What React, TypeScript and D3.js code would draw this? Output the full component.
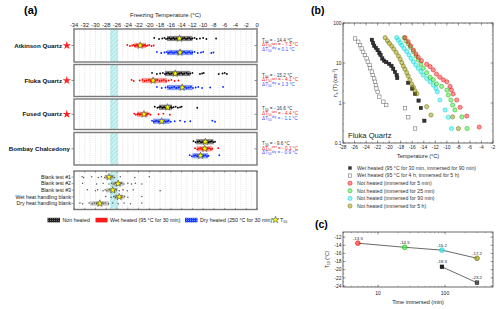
import React from "react";
import * as d3 from "d3";

const FONT = '"Liberation Sans", Arial, Helvetica, sans-serif';

// ---------------- Panel (a) data ----------------
const sampleNames = ["Atkinson Quartz", "Fluka Quartz", "Fused Quartz", "Bombay Chalcedony"];
const sampleStarred = [true, true, true, false];
const nonHeatedTemps = [
  [-19.1, -18.2, -17.6, -17.2, -16.9, -16.6, -16.3, -16.0, -15.8, -15.5, -15.3, -15.0, -14.8, -14.6, -14.4, -14.2, -14.0, -13.8, -13.5, -13.2, -12.9, -12.6, -12.3, -12.0, -11.6, -11.2, -10.6, -10.0, -9.4, -7.6],
  [-19.5, -18.6, -18.0, -17.5, -17.1, -16.8, -16.5, -16.2, -15.9, -15.6, -15.4, -15.2, -15.0, -14.7, -14.4, -14.1, -13.8, -13.5, -13.1, -12.8, -12.4, -12.0, -10.6, -10.2, -9.9, -7.1, -6.4, -6.0, -5.6],
  [-19.0, -18.5, -18.2, -17.9, -17.6, -17.3, -17.1, -16.9, -16.7, -16.6, -16.4, -16.2, -16.0, -15.8, -15.5, -15.1, -14.7, -14.3, -14.0, -11.1],
  [-11.8, -11.4, -11.0, -10.7, -10.4, -10.1, -9.9, -9.7, -9.5, -9.3, -9.0, -8.7, -8.4, -8.1, -7.8],
];
const wetHeatedTemps = [
  [-24.1, -23.6, -23.2, -22.9, -22.7, -22.5, -22.3, -22.1, -21.9, -21.8, -21.7, -21.6, -21.4, -21.2, -21.0, -20.8, -20.6, -20.3, -20.0, -19.6, -19.2],
  [-23.3, -22.9, -21.8, -21.3, -20.9, -20.5, -20.1, -19.8, -19.5, -19.3, -19.1, -18.8, -18.5, -18.1, -17.7, -17.3, -16.9, -16.4, -15.9, -15.3, -14.6],
  [-22.8, -22.5, -22.2, -22.0, -21.8, -21.6, -21.4, -21.2, -21.0, -20.8, -20.6, -20.4, -20.1, -19.8, -18.3, -17.4, -16.2],
  [-11.5, -11.1, -10.8, -10.5, -10.2, -9.9, -9.7, -9.5, -9.2, -8.9, -8.6, -8.3, -7.2],
];
const dryHeatedTemps = [
  [-18.6, -17.8, -17.2, -16.8, -16.5, -16.2, -15.9, -15.6, -15.3, -15.0, -14.7, -14.5, -14.3, -14.1, -13.8, -13.5, -13.2, -12.9, -12.6, -12.3, -12.0, -11.6, -11.0, -10.4, -10.0, -8.5, -8.1],
  [-18.6, -17.7, -17.0, -16.6, -16.2, -15.8, -15.4, -15.0, -14.6, -14.3, -14.0, -13.7, -13.4, -13.1, -12.7, -12.3, -11.9, -11.4, -10.9, -10.2, -8.7, -6.3],
  [-19.5, -19.2, -18.9, -18.6, -18.3, -18.1, -17.9, -17.7, -17.5, -17.3, -17.0, -16.7, -16.4, -16.0, -15.3, -14.3, -13.4, -12.4, -8.3, -7.8],
  [-12.5, -12.1, -11.7, -11.4, -11.1, -10.8, -10.5, -10.2, -9.9, -9.6, -9.3, -9.0, -7.0],
];
const nonHeatedBox = [[-16.7, -12.0], [-17.1, -12.4], [-18.2, -15.8], [-11.3, -8.1]];
const wetHeatedBox = [[-22.8, -20.6], [-21.4, -16.7], [-22.3, -20.2], [-11.2, -8.3]];
const dryHeatedBox = [[-16.7, -11.9], [-16.7, -12.0], [-19.3, -16.2], [-12.0, -9.1]];
const t50NonHeated = [-14.4, -15.2, -16.6, -9.6];
const t50WetHeated = [-21.7, -19.3, -21.0, -9.7];
const t50DryHeated = [-14.3, -13.9, -17.7, -10.5];
const t50Labels = ["- 14.4", "- 15.2", "- 16.6", "- 9.6"];
const dT50WetLabels = ["- 7.3", "- 4.1", "- 4.4", "- 0.1"];
const dT50DryLabels = ["0.1", "1.3", "- 1.1", "- 0.9"];

const blankNames = ["Blank test #1", "Blank test #2", "Blank test #3", "Wet heat handling blank", "Dry heat handling blank"];
const blankTemps = [
  [-32.5, -32.2, -30.7, -29.5, -28.9, -28.3, -27.9, -27.6, -27.4, -27.2, -26.9, -26.5, -25.4, -22.7, -20.0],
  [-32.4, -29.8, -28.6, -27.5, -27.0, -26.6, -26.3, -26.0, -25.7, -25.4, -25.1, -24.7, -24.0, -23.3, -22.6, -21.4],
  [-31.5, -30.0, -29.6, -28.6, -28.2, -27.9, -27.5, -27.1, -26.8, -26.5, -26.1, -25.6, -24.9, -24.1, -23.0, -18.0],
  [-28.1, -27.1, -26.6, -26.3, -26.0, -25.7, -25.4, -25.1, -24.6, -24.0, -21.4],
  [-32.9, -32.4, -31.2, -30.6, -30.2, -29.8, -29.5, -29.2, -28.9, -28.6, -28.2, -27.6, -26.8, -25.8, -24.7, -23.5, -21.4],
];
const blankBox = [[-28.3, -26.5], [-27.0, -24.8], [-28.0, -26.0], [-26.6, -24.6], [-31.0, -27.5]];
const blankT50 = [-27.5, -25.8, -26.8, -25.6, -29.2];
const homogeneousBand = [-27.3, -25.8];
const xTicksA = [-34, -32, -30, -28, -26, -24, -22, -20, -18, -16, -14, -12, -10, -8, -6, -4, -2, 0];
const legendA = ["Non heated", "Wet heated (95 °C for 30 min)", "Dry heated (250 °C for 30 min)"];

// ---------------- Panel (b) data ----------------
const legendB = [
  "Wet heated (95 °C for 30 min, immersed for 90 min)",
  "Wet heated (95 °C for 4 h, immersed for 5 h)",
  "Not heated (immersed for 5 min)",
  "Not heated (immersed for 25 min)",
  "Not heated (immersed for 90 min)",
  "Not heated (immersed for 5 h)",
];
const wetHeated30minImm90 = [
  [-23.0, 38], [-22.8, 32], [-22.6, 27], [-22.3, 24], [-22.0, 21], [-21.7, 18], [-21.5, 16], [-21.2, 13],
  [-20.9, 11.5], [-20.5, 10.5], [-20.0, 9.5], [-19.6, 8.5], [-19.3, 7.2], [-19.0, 6.0], [-18.7, 5.0], [-18.6, 4.2],
  [-16.7, 3.2], [-16.0, 2.3], [-15.5, 1.7], [-14.9, 1.15], [-14.5, 0.75], [-13.9, 0.36],
];
const wetHeated4hImm5h = [
  [-25.9, 41], [-25.35, 34], [-25.05, 28], [-24.76, 23], [-24.5, 19], [-24.2, 15.8], [-23.9, 13], [-23.7, 10.8],
  [-23.4, 8.9], [-23.3, 7.4], [-23.0, 6.1], [-22.85, 5.0], [-22.6, 4.1], [-22.45, 3.4], [-22.3, 2.8], [-22.2, 2.3],
  [-22.0, 1.9], [-21.7, 1.44], [-21.0, 1.08], [-20.5, 0.89], [-17.25, 0.74], [-16.7, 0.44], [-15.5, 0.23],
];
const notHeated5min = [
  [-17.25, 43], [-16.7, 34], [-16.3, 27], [-15.8, 21], [-15.35, 16.8], [-14.95, 13.9], [-14.4, 11.4], [-13.5, 9.3],
  [-12.9, 8.1], [-12.35, 6.7], [-11.8, 5.3], [-11.2, 4.4], [-10.6, 3.8], [-10.0, 3.4], [-9.45, 2.6], [-9.2, 2.1],
  [-8.9, 1.68], [-8.3, 1.19], [-7.7, 0.78], [-6.55, 0.47], [-4.4, 0.25],
];
const notHeated25min = [
  [-17.4, 43], [-17.1, 36], [-16.7, 30], [-16.3, 24.6], [-15.8, 19.2], [-15.35, 15], [-14.95, 11.9], [-14.5, 9.4],
  [-14.1, 7.4], [-13.5, 5.7], [-12.9, 4.4], [-12.35, 3.8], [-11.8, 3.0], [-10.9, 2.6], [-10.0, 2.1], [-9.75, 1.58],
  [-9.3, 1.19], [-9.0, 0.89], [-8.6, 0.67], [-7.4, 0.45], [-6.5, 0.23],
];
const notHeated90min = [
  [-18.7, 43], [-18.4, 37.6], [-18.1, 32], [-17.8, 27.7], [-17.4, 23], [-16.96, 19.2], [-16.56, 15.8], [-16.2, 13],
  [-15.8, 10.8], [-15.4, 8.9], [-14.95, 7.4], [-14.5, 6.1], [-14.1, 5.0], [-13.5, 4.1], [-12.9, 3.4], [-12.35, 2.8],
  [-11.9, 2.3], [-11.65, 1.9], [-11.2, 1.19], [-10.3, 0.67], [-9.75, 0.44], [-9.2, 0.23],
];
const notHeated5h = [
  [-20.7, 43], [-20.3, 36], [-19.97, 31], [-19.56, 26.6], [-19.2, 22.4], [-18.8, 18.5], [-18.4, 15], [-18.1, 12.4],
  [-17.8, 10.2], [-17.55, 8.4], [-17.25, 7.0], [-16.96, 5.7], [-16.7, 4.7], [-16.4, 3.8], [-16.1, 3.0], [-15.8, 2.5],
  [-15.5, 2.0], [-15.2, 1.7], [-13.5, 0.81], [-12.75, 0.5], [-9.0, 0.45], [-8.0, 0.23],
];
const xTicksB = [-28, -26, -24, -22, -20, -18, -16, -14, -12, -10, -8, -6, -4, -2];
const yTicksB = [0.1, 1, 10, 100];
const yTickLabelsB = ["0.1", "1", "10", "100"];

// ---------------- Panel (c) data ----------------
const timeNotHeated = [5, 25, 90, 300];
const t50NotHeatedTime = [-13.5, -14.5, -15.2, -17.2];
const timeWetHeated = [90, 300];
const t50WetHeatedTime = [-19.3, -23.2];
const yTicksC = [-12, -14, -16, -18, -20, -22, -24];
const xTicksC = [10, 100];

// colours
const RED = "#ff2a2a";
const GREEN = "#33ee33";
const CYAN = "#22f0f0";
const OLIVE = "#999900";
const circleColors = [RED, GREEN, CYAN, OLIVE];
const circleStroke = ["#e01010", "#18b018", "#10c8d0", "#6a6a00"];

export default function App() {
  // ---- panel a scales ----
  const xA = d3.scaleLinear().domain([-34, 0]).range([74, 257]);
  const panelsA = [[29, 62], [64.5, 96.5], [99, 129.5], [132.5, 165]];
  const blankPanel = [171, 209.5];
  const starSmall = d3.symbol().type(d3.symbolStar).size(15)() as string;
  const starRed = d3.symbol().type(d3.symbolStar).size(22)() as string;
  const minorA = d3.range(-33, 0, 1);

  // ---- panel b scales ----
  const xB = d3.scaleLinear().domain([-28, -2]).range([343, 493]);
  const yB = d3.scaleLog().domain([0.1, 100]).range([143, 23]);
  const yMinorB = yB.ticks();
  const xMinorB = d3.range(-27, -2, 1);

  // ---- panel c scales ----
  const xC = d3.scaleLog().domain([3, 520]).range([343, 493]);
  const yC = d3.scaleLinear().domain([-24.25, -10.75]).range([287, 232]);
  const xMinorC = xC.ticks();
  const yMinorC = d3.range(-24, -10, 1);
  const lineC = d3.line<number>().x((d, i) => xC(timeNotHeated[i])).y((d) => yC(d));
  const lineCw = d3.line<number>().x((d, i) => xC(timeWetHeated[i])).y((d) => yC(d));

  const rowColors = ["#000", "#ff0000", "#0022ff"];
  const boxColors = ["#555", "#ff4a4a", "#3a5cff"];
  const boxOpacity = [0.7, 0.55, 0.6];

  const renderRow = (temps: number[], box: number[], t50: number, y: number, k: number, key: string) => (
    <g key={key}>
      <rect x={xA(box[0])} y={y - 2.6} width={xA(box[1]) - xA(box[0])} height={5.2} fill={boxColors[k]} opacity={boxOpacity[k]} />
      {temps.map((t, i) => (
        <circle key={i} cx={xA(t)} cy={y + (i % 3 === 0 ? -0.6 : i % 3 === 1 ? 0.5 : 0)} r={0.9} fill={rowColors[k]} />
      ))}
      <path d={starSmall} transform={`translate(${xA(t50)},${y})`} fill="#ffff00" stroke="#333" strokeWidth={0.5} />
    </g>
  );

  const frame = (y0: number, y1: number, key: string) => (
    <rect key={key} x={74} y={y0} width={183} height={y1 - y0} fill="none" stroke="#7a7a7a" strokeWidth={1.4} />
  );

  return (
    <svg width={500} height={309} style={{ position: "absolute", left: 0, top: 0, background: "#fff" }} fontFamily={FONT}>
      <defs>
        <pattern id="hatch" patternUnits="userSpaceOnUse" width={3} height={3} patternTransform="rotate(45)">
          <rect width={3} height={3} fill="#cdf3f3" />
          <line x1={0} y1={0} x2={0} y2={3} stroke="#7fdada" strokeWidth={1} />
        </pattern>
        <pattern id="dots" patternUnits="userSpaceOnUse" width={2} height={2}>
          <rect width={2} height={2} fill="#1a3cff" />
          <rect width={1} height={1} fill="#6f86ff" />
        </pattern>
        <pattern id="dotsK" patternUnits="userSpaceOnUse" width={2} height={2}>
          <rect width={2} height={2} fill="#222" />
          <rect width={1} height={1} fill="#666" />
        </pattern>
      </defs>

      {/* ================= Panel (a) ================= */}
      <text x={24} y={14} fontSize={11} fontWeight="bold">(a)</text>
      <text x={xA(-17)} y={17} fontSize={6} textAnchor="middle" fill="#222">Freezing Temperature (°C)</text>
      {xTicksA.map((t) => (
        <g key={t}>
          <text x={xA(t)} y={26.5} fontSize={5.8} textAnchor="middle" fill="#222">{t}</text>
          <line x1={xA(t)} x2={xA(t)} y1={27.8} y2={29} stroke="#444" strokeWidth={0.5} />
        </g>
      ))}

      {[...panelsA, blankPanel].map((p, pi) => (
        <g key={"bg" + pi}>
          <rect x={xA(homogeneousBand[0])} y={p[0]} width={xA(homogeneousBand[1]) - xA(homogeneousBand[0])} height={p[1] - p[0]} fill="url(#hatch)" />
          {minorA.map((v) => (
            <line key={v} x1={xA(v)} x2={xA(v)} y1={p[0]} y2={p[1]} stroke="#bdbdbd" strokeWidth={0.5} strokeDasharray="0.7,1.2" />
          ))}
        </g>
      ))}

      {panelsA.map((p, si) => {
        const c = (p[0] + p[1]) / 2;
        return (
          <g key={"s" + si}>
            {renderRow(nonHeatedTemps[si], nonHeatedBox[si], t50NonHeated[si], c - 7, 0, "n")}
            {renderRow(wetHeatedTemps[si], wetHeatedBox[si], t50WetHeated[si], c, 1, "w")}
            {renderRow(dryHeatedTemps[si], dryHeatedBox[si], t50DryHeated[si], c + 7, 2, "d")}
            <line x1={71.5} x2={74} y1={c} y2={c} stroke="#444" strokeWidth={0.6} />
            <line x1={254.5} x2={257} y1={c} y2={c} stroke="#444" strokeWidth={0.6} />
            <text x={sampleStarred[si] ? 62 : 70} y={c + 2.2} fontSize={6.2} fontWeight="bold" textAnchor="end" fill="#111">{sampleNames[si]}</text>
            {sampleStarred[si] && <path d={starRed} transform={`translate(66.8,${c})`} fill="#ff2020" />}
            <g fontSize={4.7}>
              <text x={262} y={c - 3.8} fill="#333">
                T<tspan fontSize={3.3} dy={1}>50</tspan><tspan dy={-1}>{` = ${t50Labels[si]} °C`}</tspan>
              </text>
              <text x={262} y={c + 0.8} fill="#ff2020">
                ΔT<tspan fontSize={3.3} dy={1}>50</tspan><tspan fontSize={3.3} dy={-2.6}>wet</tspan><tspan dy={1.6}>{` = ${dT50WetLabels[si]} °C`}</tspan>
              </text>
              <text x={262} y={c + 5.4} fill="#3355ff">
                ΔT<tspan fontSize={3.3} dy={1}>50</tspan><tspan fontSize={3.3} dy={-2.6}>dry</tspan><tspan dy={1.6}>{` = ${dT50DryLabels[si]} °C`}</tspan>
              </text>
            </g>
          </g>
        );
      })}

      {blankNames.map((name, bi) => {
        const y = (blankPanel[0] + blankPanel[1]) / 2 + (bi - 2) * 6.6;
        const box = blankBox[bi];
        return (
          <g key={"b" + bi}>
            <rect x={xA(box[0])} y={y - 2.2} width={xA(box[1]) - xA(box[0])} height={4.4} fill="#9a9a9a" opacity={0.55} />
            {blankTemps[bi].map((t, i) => (
              <circle key={i} cx={xA(t)} cy={y + (i % 2 === 0 ? -0.4 : 0.4)} r={0.75} fill="#555" />
            ))}
            <path d={starSmall} transform={`translate(${xA(blankT50[bi])},${y})`} fill="#ffff00" stroke="#333" strokeWidth={0.5} />
            <line x1={71.5} x2={74} y1={y} y2={y} stroke="#444" strokeWidth={0.5} />
            <text x={71} y={y + 1.8} fontSize={5.2} textAnchor="end" fill="#222">{name}</text>
          </g>
        );
      })}

      {panelsA.map((p, i) => frame(p[0], p[1], "f" + i))}
      {frame(blankPanel[0], blankPanel[1], "fb")}
      {xTicksA.map((t) => (
        <g key={"bt" + t}>
          <line x1={xA(t)} x2={xA(t)} y1={blankPanel[0]} y2={blankPanel[0] + 1.6} stroke="#444" strokeWidth={0.5} />
          <line x1={xA(t)} x2={xA(t)} y1={blankPanel[1]} y2={blankPanel[1] - 1.6} stroke="#444" strokeWidth={0.5} />
        </g>
      ))}

      {/* legend a */}
      <g fontSize={5.3} fill="#222">
        <rect x={47.5} y={217.8} width={12.5} height={4.6} fill="url(#dotsK)" />
        <text x={62.5} y={222}>{legendA[0]}</text>
        <rect x={95.5} y={217.8} width={12} height={4.6} fill="#ff1a1a" />
        <text x={110} y={222}>{legendA[1]}</text>
        <rect x={185} y={217.8} width={12.5} height={4.6} fill="url(#dots)" />
        <text x={200} y={222}>{legendA[2]}</text>
        <path d={starSmall} transform="translate(275.5,219.8)" fill="#ffff00" stroke="#333" strokeWidth={0.5} />
        <text x={280} y={222}>T<tspan fontSize={3.5} dy={1}>50</tspan></text>
      </g>

      {/* ================= Panel (b) ================= */}
      <text x={311} y={14} fontSize={10.5} fontWeight="bold">(b)</text>
      <rect x={343} y={23} width={150} height={120} fill="none" stroke="#444" strokeWidth={0.8} />
      {xMinorB.map((t) => (
        <g key={"xbm" + t}>
          <line x1={xB(t)} x2={xB(t)} y1={143} y2={141.8} stroke="#444" strokeWidth={0.4} />
          <line x1={xB(t)} x2={xB(t)} y1={23} y2={24.2} stroke="#444" strokeWidth={0.4} />
        </g>
      ))}
      {xTicksB.map((t) => (
        <g key={"xb" + t}>
          <line x1={xB(t)} x2={xB(t)} y1={143} y2={140.5} stroke="#444" strokeWidth={0.5} />
          <line x1={xB(t)} x2={xB(t)} y1={23} y2={25.5} stroke="#444" strokeWidth={0.5} />
          <text x={xB(t)} y={148.5} fontSize={4.9} textAnchor="middle" fill="#222">{t}</text>
        </g>
      ))}
      {yMinorB.map((t, i) => (
        <g key={"ybm" + i}>
          <line x1={343} x2={344.2} y1={yB(t)} y2={yB(t)} stroke="#444" strokeWidth={0.4} />
          <line x1={493} x2={491.8} y1={yB(t)} y2={yB(t)} stroke="#444" strokeWidth={0.4} />
        </g>
      ))}
      {yTicksB.map((t, i) => (
        <g key={"yb" + i}>
          <line x1={343} x2={345.5} y1={yB(t)} y2={yB(t)} stroke="#444" strokeWidth={0.5} />
          <line x1={493} x2={490.5} y1={yB(t)} y2={yB(t)} stroke="#444" strokeWidth={0.5} />
          <text x={341.5} y={yB(t) + 1.7} fontSize={4.9} textAnchor="end" fill="#222">{yTickLabelsB[i]}</text>
        </g>
      ))}
      <text transform="translate(337,83) rotate(-90)" fontSize={5.3} textAnchor="middle" fill="#222">
        n<tspan fontSize={3.8} dy={1}>s</tspan><tspan dy={-1}> (T) (cm</tspan><tspan fontSize={3.8} dy={-2}>-2</tspan><tspan dy={2}>)</tspan>
      </text>
      <text x={418} y={158} fontSize={5.5} textAnchor="middle" fill="#222">Temperature (°C)</text>
      <text x={348} y={138} fontSize={7.6} fill="#222">Fluka Quartz</text>

      {wetHeated30minImm90.map((d, i) => (
        <rect key={"k" + i} x={xB(d[0]) - 1.7} y={yB(d[1]) - 1.7} width={3.4} height={3.4} fill="#333" stroke="#111" strokeWidth={0.4} />
      ))}
      {wetHeated4hImm5h.map((d, i) => (
        <rect key={"g" + i} x={xB(d[0]) - 1.7} y={yB(d[1]) - 1.7} width={3.4} height={3.4} fill="#fff" stroke="#777" strokeWidth={0.6} />
      ))}
      {[notHeated5h, notHeated90min, notHeated25min, notHeated5min].map((series, si) => {
        const ci = 3 - si;
        return (
          <g key={"c" + si}>
            {series.map((d, i) => (
              <circle key={i} cx={xB(d[0])} cy={yB(d[1])} r={2.1} fill={circleColors[ci]} fillOpacity={0.5} stroke={circleStroke[ci]} strokeWidth={0.5} />
            ))}
          </g>
        );
      })}

      {/* legend b */}
      <g fontSize={5.2} fill="#333">
        {legendB.map((lab, i) => {
          const y = 168 + i * 7.6;
          return (
            <g key={"lb" + i}>
              {i === 0 && <rect x={348.3} y={y - 1.7} width={3.4} height={3.4} fill="#333" />}
              {i === 1 && <rect x={348.3} y={y - 1.7} width={3.4} height={3.4} fill="#fff" stroke="#777" strokeWidth={0.6} />}
              {i >= 2 && <circle cx={350} cy={y} r={2.1} fill={circleColors[i - 2]} fillOpacity={0.5} stroke={circleStroke[i - 2]} strokeWidth={0.5} />}
              <text x={357} y={y + 1.8}>{lab}</text>
            </g>
          );
        })}
      </g>

      {/* ================= Panel (c) ================= */}
      <text x={315} y={228} fontSize={10.5} fontWeight="bold">(c)</text>
      <rect x={343} y={232} width={150} height={55} fill="none" stroke="#444" strokeWidth={0.8} />
      {xMinorC.map((t, i) => (
        <g key={"xcm" + i}>
          <line x1={xC(t)} x2={xC(t)} y1={287} y2={285.8} stroke="#444" strokeWidth={0.4} />
          <line x1={xC(t)} x2={xC(t)} y1={232} y2={233.2} stroke="#444" strokeWidth={0.4} />
        </g>
      ))}
      {xTicksC.map((t) => (
        <g key={"xc" + t}>
          <line x1={xC(t)} x2={xC(t)} y1={287} y2={284.5} stroke="#444" strokeWidth={0.5} />
          <line x1={xC(t)} x2={xC(t)} y1={232} y2={234.5} stroke="#444" strokeWidth={0.5} />
          <text x={xC(t)} y={294.5} fontSize={5} textAnchor="middle" fill="#222">{t}</text>
        </g>
      ))}
      {yMinorC.map((t) => (
        <g key={"ycm" + t}>
          <line x1={343} x2={344.2} y1={yC(t)} y2={yC(t)} stroke="#444" strokeWidth={0.4} />
          <line x1={493} x2={491.8} y1={yC(t)} y2={yC(t)} stroke="#444" strokeWidth={0.4} />
        </g>
      ))}
      {yTicksC.map((t) => (
        <g key={"yc" + t}>
          <line x1={343} x2={345.5} y1={yC(t)} y2={yC(t)} stroke="#444" strokeWidth={0.5} />
          <line x1={493} x2={490.5} y1={yC(t)} y2={yC(t)} stroke="#444" strokeWidth={0.5} />
          <text x={341.5} y={yC(t) + 1.7} fontSize={4.9} textAnchor="end" fill="#222">{t}</text>
        </g>
      ))}
      <text transform="translate(328.5,259.5) rotate(-90)" fontSize={5} textAnchor="middle" fill="#222">
        T<tspan fontSize={3.6} dy={1}>50</tspan><tspan dy={-1}> (°C)</tspan>
      </text>
      <text x={418} y={303.5} fontSize={5.5} textAnchor="middle" fill="#222">Time immersed (min)</text>

      <path d={lineC(t50NotHeatedTime) || ""} fill="none" stroke="#444" strokeWidth={0.8} />
      <path d={lineCw(t50WetHeatedTime) || ""} fill="none" stroke="#444" strokeWidth={0.8} />
      {t50NotHeatedTime.map((v, i) => (
        <g key={"pc" + i}>
          <circle cx={xC(timeNotHeated[i])} cy={yC(v)} r={2.4} fill={circleColors[i]} fillOpacity={0.65} stroke={circleStroke[i]} strokeWidth={0.6} />
          <text x={xC(timeNotHeated[i])} y={yC(v) - 3.6} fontSize={4.4} textAnchor="middle" fill="#222">{v.toFixed(1)}</text>
        </g>
      ))}
      {t50WetHeatedTime.map((v, i) => (
        <g key={"pw" + i}>
          <rect x={xC(timeWetHeated[i]) - 1.9} y={yC(v) - 1.9} width={3.8} height={3.8} fill={i === 0 ? "#222" : "#555"} stroke="#111" strokeWidth={0.4} />
          <text x={xC(timeWetHeated[i])} y={yC(v) - 3.6} fontSize={4.4} textAnchor="middle" fill="#222">{v.toFixed(1)}</text>
        </g>
      ))}
    </svg>
  );
}
